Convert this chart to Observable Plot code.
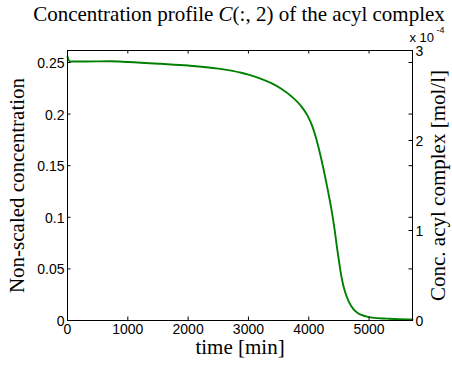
<!DOCTYPE html>
<html>
<head>
<meta charset="utf-8">
<script src="https://cdn.jsdelivr.net/npm/d3@7"></script>
<script src="https://cdn.jsdelivr.net/npm/@observablehq/plot@0.6"></script>
<style>
  html, body { margin: 0; padding: 0; background: #fff; }
  #wrap { width: 452px; height: 367px; position: relative; overflow: hidden; }
  #title { position: absolute; left: 26px; top: 0; width: 426px; height: 30px; padding-top: 2px; box-sizing: border-box;
           font-family: "Liberation Serif", "Times New Roman", serif; font-size: 21px; text-align: center; color: #000; white-space: nowrap; }
  #chart { position: absolute; left: 0; top: 30px; }
</style>
</head>
<body>
<div id="wrap">
  <div id="title">Concentration profile <i>C</i>(:, 2) of the acyl complex</div>
  <div id="chart"></div>
</div>
<script>
// ---- data ----
const time = [0, 40, 300, 700, 1000, 1550, 2000, 2500, 2880, 3000, 3200, 3380, 3550, 3720, 3880, 3980, 4050, 4110, 4160, 4240, 4300, 4350, 4385, 4430, 4470, 4510, 4550, 4600, 4660, 4740, 4830, 4950, 5050, 5300, 5500, 5720];
const conc = [0.2555, 0.2510, 0.2510, 0.2512, 0.2505, 0.2487, 0.2470, 0.2440, 0.2400, 0.2382, 0.2344, 0.2299, 0.2243, 0.2168, 0.2072, 0.1985, 0.1895, 0.1790, 0.1680, 0.1480, 0.1310, 0.1160, 0.1045, 0.0875, 0.0700, 0.0540, 0.0400, 0.0280, 0.0188, 0.0110, 0.0065, 0.0040, 0.0028, 0.0018, 0.0012, 0.0010];
const xTicks = [0, 1000, 2000, 3000, 4000, 5000];
const yTicksLeft = [0, 0.05, 0.1, 0.15, 0.2, 0.25];
const yTicksRight = [0, 1, 2, 3];           // ×10^-4 mol/l
const xDomain = [0, 5720];
const yDomainLeft = [0, 0.2616];
const rightMax = 3;                          // top of right axis (×10^-4)
const xLabel = "time [min]";
const yLabelLeft = "Non-scaled concentration";
const yLabelRight = "Conc. acyl complex [mol/l]";

// ---- layout ----
const W = 452, H = 337;
const mL = 67, mR = 40, mT = 20, mB = 47;
const pw = W - mL - mR, ph = H - mT - mB;
const tick = 3.5;
const k = yDomainLeft[1] / rightMax;   // right-axis unit -> left-axis units
const serif = "Liberation Serif, Times New Roman, serif";

const data = time.map((t, i) => ({t, c: conc[i]}));

const chart = Plot.plot({
  width: W, height: H,
  marginLeft: mL, marginRight: mR, marginTop: mT, marginBottom: mB,
  style: {fontFamily: "Liberation Sans, Arial, sans-serif", fontSize: "14px", color: "#000", background: "#fff", overflow: "visible"},
  x: {domain: xDomain, axis: null},
  y: {domain: yDomainLeft, axis: null},
  marks: [
    Plot.line(data, {x: "t", y: "c", stroke: "#008000", strokeWidth: 1.9, curve: "monotone-x"}),
    // inward ticks
    Plot.ruleX(xTicks, {x: d => d, insetTop: ph - tick, stroke: "#000"}),
    Plot.ruleX(xTicks, {x: d => d, insetBottom: ph - tick, stroke: "#000"}),
    Plot.ruleY(yTicksLeft, {y: d => d, insetRight: pw - tick, stroke: "#000"}),
    Plot.ruleY(yTicksLeft, {y: d => d, insetLeft: pw - tick, stroke: "#000"}),
    Plot.ruleY(yTicksRight, {y: d => d * k, insetLeft: pw - tick, stroke: "#000"}),
    Plot.frame({stroke: "#000", strokeWidth: 1}),
    // tick labels
    Plot.axisX(xTicks, {anchor: "bottom", tickSize: 0, tickPadding: 4, tickFormat: d => String(d), label: null, fontSize: 14}),
    Plot.axisY(yTicksLeft, {anchor: "left", tickSize: 0, tickPadding: 3, dy: 1, tickFormat: d => String(d), label: null, fontSize: 14}),
    Plot.axisY(yTicksRight.map(d => d * k), {anchor: "right", tickSize: 0, tickPadding: 3, dy: 1, tickFormat: d => String(Math.round(d / k)), label: null, fontSize: 14}),
    // exponent
    Plot.text(["x 10"], {frameAnchor: "top-right", textAnchor: "start", lineAnchor: "bottom", dx: -3, dy: -9, fontSize: 13}),
    Plot.text(["-4"], {frameAnchor: "top-right", textAnchor: "start", lineAnchor: "bottom", dx: 24, dy: -18, fontSize: 9}),
    // axis labels
    Plot.text([xLabel], {frameAnchor: "bottom", textAnchor: "middle", lineAnchor: "bottom", dy: 33, fontSize: 21, fontFamily: serif}),
    Plot.text([yLabelLeft], {frameAnchor: "left", textAnchor: "middle", rotate: -90, lineAnchor: "bottom", dx: -43.5, fontSize: 21, fontFamily: serif}),
    Plot.text([yLabelRight], {frameAnchor: "right", textAnchor: "middle", rotate: -90, lineAnchor: "bottom", dx: 32, fontSize: 21, fontFamily: serif})
  ]
});
document.getElementById("chart").appendChild(chart);
</script>
</body>
</html>
